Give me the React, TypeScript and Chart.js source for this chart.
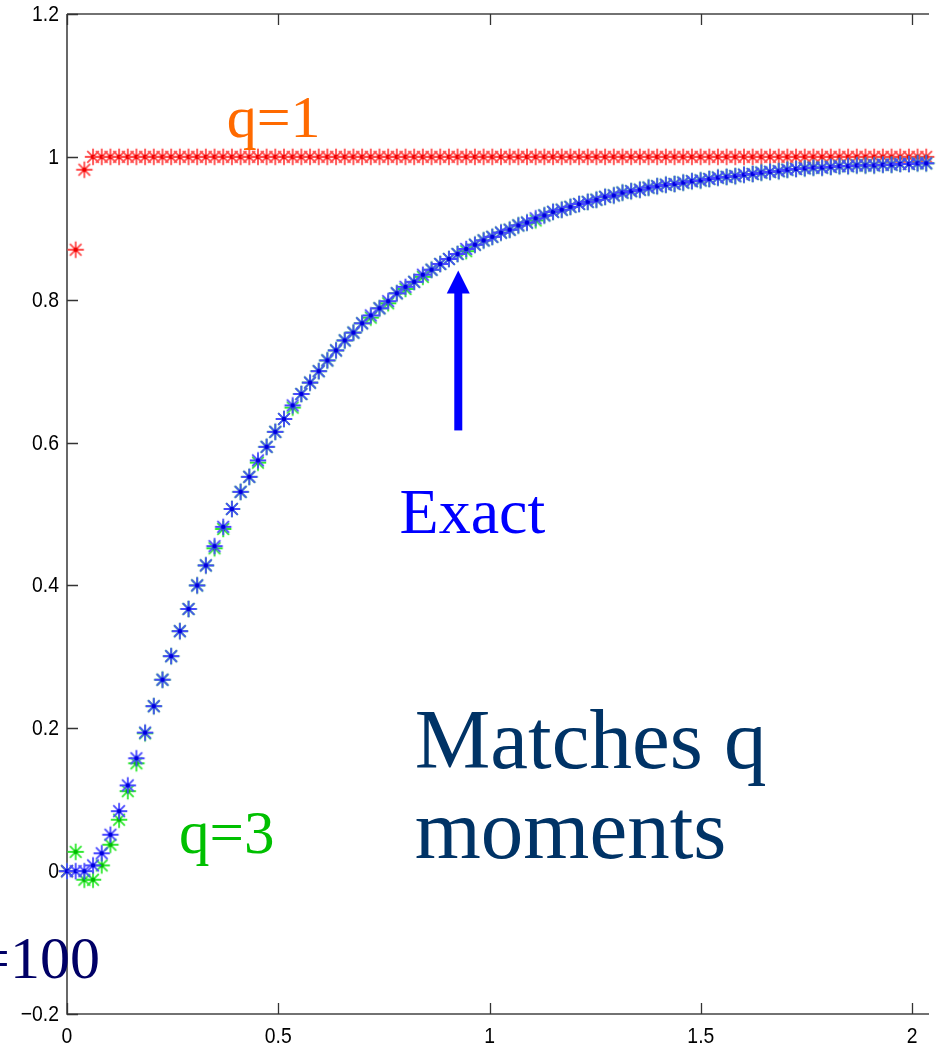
import { useEffect, useRef } from "react";
import { Chart, registerables } from "chart.js";

Chart.register(...registerables);

// Sampling interval of the time grid (one marker per sample)
const STEP = 0.02054;

// Exact solution
const EXACT = [
  0, 0, 0, 0.008, 0.025, 0.051, 0.084, 0.12, 0.158, 0.194,
  0.231, 0.268, 0.301, 0.336, 0.367, 0.4, 0.428, 0.455, 0.482, 0.507,
  0.531, 0.552, 0.575, 0.594, 0.615, 0.633, 0.652, 0.668, 0.684, 0.7,
  0.715, 0.729, 0.743, 0.754, 0.767, 0.778, 0.788, 0.798, 0.809, 0.818,
  0.825, 0.835, 0.842, 0.85, 0.857, 0.864, 0.871, 0.877, 0.883, 0.888,
  0.894, 0.898, 0.904, 0.908, 0.914, 0.918, 0.923, 0.926, 0.93, 0.934,
  0.937, 0.94, 0.944, 0.946, 0.95, 0.952, 0.954, 0.957, 0.959, 0.961,
  0.962, 0.964, 0.966, 0.967, 0.969, 0.971, 0.972, 0.973, 0.975, 0.976,
  0.978, 0.979, 0.98, 0.982, 0.983, 0.984, 0.985, 0.985, 0.986, 0.987,
  0.987, 0.988, 0.988, 0.988, 0.989, 0.989, 0.99, 0.99, 0.991, 0.991,
];

// Approximation matching 3 moments
const Q3 = [
  0, 0.027, -0.012, -0.012, 0.008, 0.037, 0.072, 0.112, 0.151, 0.193,
  0.231, 0.268, 0.301, 0.336, 0.367, 0.4, 0.428, 0.452, 0.479, 0.507,
  0.531, 0.552, 0.572, 0.594, 0.615, 0.633, 0.649, 0.668, 0.684, 0.7,
  0.715, 0.729, 0.743, 0.754, 0.767, 0.775, 0.788, 0.795, 0.809, 0.815,
  0.825, 0.832, 0.842, 0.85, 0.857, 0.864, 0.868, 0.877, 0.883, 0.888,
  0.894, 0.898, 0.904, 0.908, 0.911, 0.918, 0.923, 0.926, 0.93, 0.934,
  0.937, 0.94, 0.944, 0.946, 0.95, 0.952, 0.954, 0.957, 0.959, 0.961,
  0.962, 0.964, 0.966, 0.967, 0.969, 0.971, 0.972, 0.973, 0.975, 0.976,
  0.978, 0.979, 0.98, 0.982, 0.983, 0.984, 0.985, 0.985, 0.986, 0.987,
  0.987, 0.988, 0.988, 0.988, 0.989, 0.989, 0.99, 0.99, 0.991, 0.991,
];

// Approximation matching 1 moment
const Q1 = [
  0, 0.87, 0.982, 1, 1, 1, 1, 1, 1, 1,
  1, 1, 1, 1, 1, 1, 1, 1, 1, 1,
  1, 1, 1, 1, 1, 1, 1, 1, 1, 1,
  1, 1, 1, 1, 1, 1, 1, 1, 1, 1,
  1, 1, 1, 1, 1, 1, 1, 1, 1, 1,
  1, 1, 1, 1, 1, 1, 1, 1, 1, 1,
  1, 1, 1, 1, 1, 1, 1, 1, 1, 1,
  1, 1, 1, 1, 1, 1, 1, 1, 1, 1,
  1, 1, 1, 1, 1, 1, 1, 1, 1, 1,
  1, 1, 1, 1, 1, 1, 1, 1, 1, 1,
];

const X_TICKS = [0, 0.5, 1, 1.5, 2];
const X_TICK_LABELS = ["0", "0.5", "1", "1.5", "2"];
const Y_TICKS = [-0.2, 0, 0.2, 0.4, 0.6, 0.8, 1, 1.2];
const Y_TICK_LABELS = ["\u22120.2", "0", "0.2", "0.4", "0.6", "0.8", "1", "1.2"];

const X_MAX = 2.04;
const Y_MIN = -0.2;
const Y_MAX = 1.2;

// Arrow pointing at the exact curve
const ARROW = { x: 0.926, from: 0.617, to: 0.841 };

type Note = { text: string; x: number; y: number; size: number; color: string; align: CanvasTextAlign };
const NOTES: Note[] = [
  { text: "q=1", x: 0.378, y: 1.028, size: 60, color: "#ff6a00", align: "left" },
  { text: "Exact", x: 0.787, y: 0.474, size: 64, color: "#0000ff", align: "left" },
  { text: "Matches q", x: 0.823, y: 0.145, size: 85, color: "#003366", align: "left" },
  { text: "moments", x: 0.823, y: 0.019, size: 85, color: "#003366", align: "left" },
  { text: "q=3", x: 0.265, y: 0.025, size: 61, color: "#00c000", align: "left" },
  { text: "q=100", x: 0.078, y: -0.149, size: 60, color: "#000066", align: "right" },
];

// Asterisk marker with a solid centre dot
function makeStar(line: string, dot: string): HTMLCanvasElement {
  const size = 20;
  const c = document.createElement("canvas");
  c.width = size;
  c.height = size;
  const g = c.getContext("2d")!;
  const m = size / 2;
  const r = 8.2;
  const d = r * Math.SQRT1_2;
  g.strokeStyle = line;
  g.lineWidth = 1.8;
  g.beginPath();
  g.moveTo(m - r, m);
  g.lineTo(m + r, m);
  g.moveTo(m, m - r);
  g.lineTo(m, m + r);
  g.moveTo(m - d, m - d);
  g.lineTo(m + d, m + d);
  g.moveTo(m - d, m + d);
  g.lineTo(m + d, m - d);
  g.stroke();
  g.fillStyle = dot;
  g.beginPath();
  g.arc(m, m, 2.3, 0, Math.PI * 2);
  g.fill();
  return c;
}

const toPoints = (ys: number[]) => ys.map((y, i) => ({ x: i * STEP, y }));

const framePlugin = {
  id: "frame",
  beforeDatasetsDraw(chart: any) {
    const { ctx, chartArea } = chart;
    const xs = chart.scales.x;
    const ys = chart.scales.y;
    ctx.save();
    ctx.strokeStyle = "#444";
    ctx.lineWidth = 1.6;
    ctx.beginPath();
    ctx.moveTo(chartArea.left, chartArea.top);
    ctx.lineTo(chartArea.right, chartArea.top);
    ctx.moveTo(chartArea.left, chartArea.top);
    ctx.lineTo(chartArea.left, chartArea.bottom);
    ctx.lineTo(chartArea.right, chartArea.bottom);
    ctx.stroke();
    ctx.lineWidth = 1.3;
    ctx.strokeStyle = "#333";
    ctx.beginPath();
    const len = 11;
    X_TICKS.forEach((v) => {
      const px = Math.round(xs.getPixelForValue(v)) + 0.5;
      ctx.moveTo(px, chartArea.bottom);
      ctx.lineTo(px, chartArea.bottom - len);
      ctx.moveTo(px, chartArea.top);
      ctx.lineTo(px, chartArea.top + len);
    });
    Y_TICKS.forEach((v) => {
      const py = Math.round(ys.getPixelForValue(v)) + 0.5;
      ctx.moveTo(chartArea.left, py);
      ctx.lineTo(chartArea.left + len, py);
    });
    ctx.stroke();

    // tick labels
    ctx.fillStyle = "#000";
    ctx.font = '22px "Liberation Sans", Arial, sans-serif';
    ctx.textBaseline = "middle";
    ctx.textAlign = "center";
    X_TICKS.forEach((v, i) => {
      const px = xs.getPixelForValue(v);
      ctx.save();
      ctx.translate(px, chartArea.bottom + 23);
      ctx.scale(0.88, 1);
      ctx.fillText(X_TICK_LABELS[i], 0, 0);
      ctx.restore();
    });
    ctx.textAlign = "right";
    Y_TICKS.forEach((v, i) => {
      const py = ys.getPixelForValue(v);
      ctx.save();
      ctx.translate(chartArea.left - 8, py + 1);
      ctx.scale(0.88, 1);
      ctx.fillText(Y_TICK_LABELS[i], 0, 0);
      ctx.restore();
    });
    ctx.restore();
  },
  afterDatasetsDraw(chart: any) {
    const { ctx } = chart;
    const xs = chart.scales.x;
    const ys = chart.scales.y;
    ctx.save();
    // arrow
    const ax = xs.getPixelForValue(ARROW.x);
    const yb = ys.getPixelForValue(ARROW.from);
    const yt = ys.getPixelForValue(ARROW.to);
    const head = 23;
    ctx.fillStyle = "#0000ff";
    ctx.fillRect(ax - 4, yt + head - 1, 8, yb - yt - head + 1);
    ctx.beginPath();
    ctx.moveTo(ax, yt);
    ctx.lineTo(ax - 11.5, yt + head);
    ctx.lineTo(ax + 11.5, yt + head);
    ctx.closePath();
    ctx.fill();
    // notes
    ctx.textBaseline = "alphabetic";
    NOTES.forEach((n) => {
      ctx.font = `${n.size}px "Liberation Serif", "Times New Roman", serif`;
      ctx.fillStyle = n.color;
      ctx.textAlign = n.align;
      ctx.fillText(n.text, xs.getPixelForValue(n.x), ys.getPixelForValue(n.y));
    });
    ctx.restore();
  },
};

export default function App() {
  const ref = useRef<HTMLCanvasElement | null>(null);
  useEffect(() => {
    if (!ref.current) return;
    const blue = makeStar("#4848ff", "#0000dd");
    const green = makeStar("#30e830", "#00bb00");
    const red = makeStar("#ff4a4a", "#ee0000");
    const chart = new Chart(ref.current, {
      type: "scatter",
      data: {
        datasets: [
          { label: "Exact", data: toPoints(EXACT), pointStyle: blue as any, pointRadius: 8, order: 0, clip: false as any },
          { label: "q=3", data: toPoints(Q3), pointStyle: green as any, pointRadius: 8, order: 1, clip: false as any },
          { label: "q=1", data: toPoints(Q1), pointStyle: red as any, pointRadius: 8, order: 2, clip: false as any },
        ],
      },
      options: {
        animation: false,
        responsive: false,
        devicePixelRatio: 1,
        layout: { padding: { left: 67, top: 14, right: 0, bottom: 34 } },
        scales: {
          x: { type: "linear", min: 0, max: X_MAX, display: false },
          y: { type: "linear", min: Y_MIN, max: Y_MAX, display: false },
        },
        plugins: { legend: { display: false }, tooltip: { enabled: false } },
        events: [],
      },
      plugins: [framePlugin],
    });
    return () => chart.destroy();
  }, []);
  return (
    <div style={{ position: "absolute", left: 0, top: 0, width: 938, height: 1048, background: "#fff" }}>
      <canvas ref={ref} width={938} height={1048} style={{ display: "block" }} />
    </div>
  );
}
